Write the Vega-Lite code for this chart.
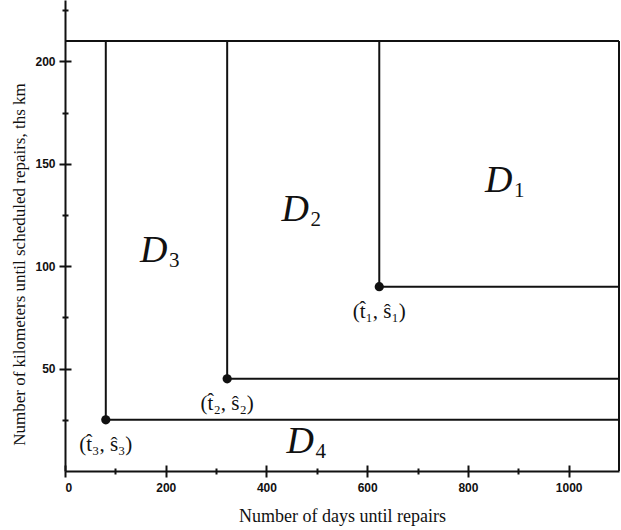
{
  "$schema": "https://vega.github.io/schema/vega-lite/v6.json",
  "width": 554,
  "height": 471,
  "autosize": {"type": "none"},
  "padding": {"left": 65, "top": 0, "right": 2, "bottom": 59},
  "background": "white",
  "config": {
    "view": {"stroke": null},
    "axis": {
      "grid": false,
      "domainColor": "#111111",
      "domainWidth": 2,
      "tickColor": "#111111",
      "tickWidth": 2,
      "labelFont": "Liberation Sans",
      "labelFontWeight": "bold",
      "labelFontSize": 12,
      "labelColor": "#111111",
      "titleFont": "Liberation Serif",
      "titleFontWeight": "normal",
      "titleColor": "#111111"
    }
  },
  "datasets": {
    "segments": [
      {"x": 0, "x2": 1100, "y": 210, "y2": 210},
      {"x": 1100, "x2": 1100, "y": 0, "y2": 210},
      {"x": 624, "x2": 624, "y": 90, "y2": 210},
      {"x": 624, "x2": 1100, "y": 90, "y2": 90},
      {"x": 322, "x2": 322, "y": 45, "y2": 210},
      {"x": 322, "x2": 1100, "y": 45, "y2": 45},
      {"x": 81, "x2": 81, "y": 25, "y2": 210},
      {"x": 81, "x2": 1100, "y": 25, "y2": 25}
    ],
    "points": [
      {"t": 624, "s": 90, "label": "(t\u0302\u2081, s\u0302\u2081)"},
      {"t": 322, "s": 45, "label": "(t\u0302\u2082, s\u0302\u2082)"},
      {"t": 81, "s": 25, "label": "(t\u0302\u2083, s\u0302\u2083)"}
    ],
    "regions": [
      {"name": "D", "sub": "1", "x": 834, "y": 136},
      {"name": "D", "sub": "2", "x": 430, "y": 122},
      {"name": "D", "sub": "3", "x": 149, "y": 102},
      {"name": "D", "sub": "4", "x": 440, "y": 8.6}
    ]
  },
  "layer": [
    {
      "data": {"name": "segments"},
      "mark": {"type": "rule", "color": "#111111", "strokeWidth": 2},
      "encoding": {
        "x": {
          "field": "x", "type": "quantitative",
          "scale": {"domain": [0, 1100], "nice": false, "zero": false},
          "axis": {
            "orient": "bottom",
            "values": [0, 200, 400, 600, 800, 1000],
            "format": "d",
            "tickSize": 6,
            "labelPadding": 5,
            "title": "Number of days until repairs",
            "titleFontSize": 18,
            "titlePadding": 14
          }
        },
        "x2": {"field": "x2"},
        "y": {
          "field": "y", "type": "quantitative",
          "scale": {"domain": [0, 230], "nice": false, "zero": false},
          "axis": {
            "orient": "left",
            "values": [50, 100, 150, 200],
            "tickSize": 6,
            "labelPadding": 4,
            "title": "Number of kilometers until scheduled repairs, ths km",
            "titleFontSize": 17,
            "titlePadding": 6,
            "titleY": 264
          }
        },
        "y2": {"field": "y2"}
      }
    },
    {
      "data": {"name": "points"},
      "mark": {"type": "circle", "color": "#111111", "opacity": 1, "size": 85},
      "encoding": {
        "x": {
          "field": "t", "type": "quantitative",
          "axis": {"orient": "bottom", "values": [0, 200, 400, 600, 800, 1000], "tickSize": -6, "labels": false, "domain": false, "title": null}
        },
        "y": {
          "field": "s", "type": "quantitative",
          "axis": {"orient": "left", "values": [50, 100, 150, 200], "tickSize": -6, "labels": false, "domain": false, "title": null}
        }
      }
    },
    {
      "data": {"name": "regions"},
      "mark": {"type": "text", "font": "Liberation Serif", "fontStyle": "italic", "fontSize": 38, "align": "left", "baseline": "alphabetic", "color": "#111111"},
      "encoding": {
        "x": {
          "field": "x", "type": "quantitative",
          "axis": {"orient": "bottom", "values": [100, 300, 500, 700, 900], "tickSize": 3, "labels": false, "domain": false, "title": null}
        },
        "y": {
          "field": "y", "type": "quantitative",
          "axis": {"orient": "left", "values": [25, 75, 125, 175, 225], "tickSize": 3, "labels": false, "domain": false, "title": null}
        },
        "text": {"field": "name"}
      }
    },
    {
      "data": {"name": "regions"},
      "mark": {"type": "text", "font": "Liberation Serif", "fontSize": 21, "align": "left", "baseline": "alphabetic", "dx": 29, "dy": 5, "color": "#111111"},
      "encoding": {
        "x": {
          "field": "x", "type": "quantitative",
          "axis": {"orient": "bottom", "values": [100, 300, 500, 700, 900], "tickSize": -3, "labels": false, "domain": false, "title": null}
        },
        "y": {
          "field": "y", "type": "quantitative",
          "axis": {"orient": "left", "values": [25, 75, 125, 175, 225], "tickSize": -3, "labels": false, "domain": false, "title": null}
        },
        "text": {"field": "sub"}
      }
    },
    {
      "data": {"name": "points"},
      "mark": {"type": "text", "font": "Liberation Serif", "fontSize": 21, "align": "center", "baseline": "top", "dy": 14, "color": "#111111"},
      "encoding": {
        "x": {"field": "t", "type": "quantitative", "axis": null},
        "y": {"field": "s", "type": "quantitative", "axis": null},
        "text": {"field": "label"}
      }
    }
  ],
  "resolve": {"axis": {"x": "independent", "y": "independent"}}
}
